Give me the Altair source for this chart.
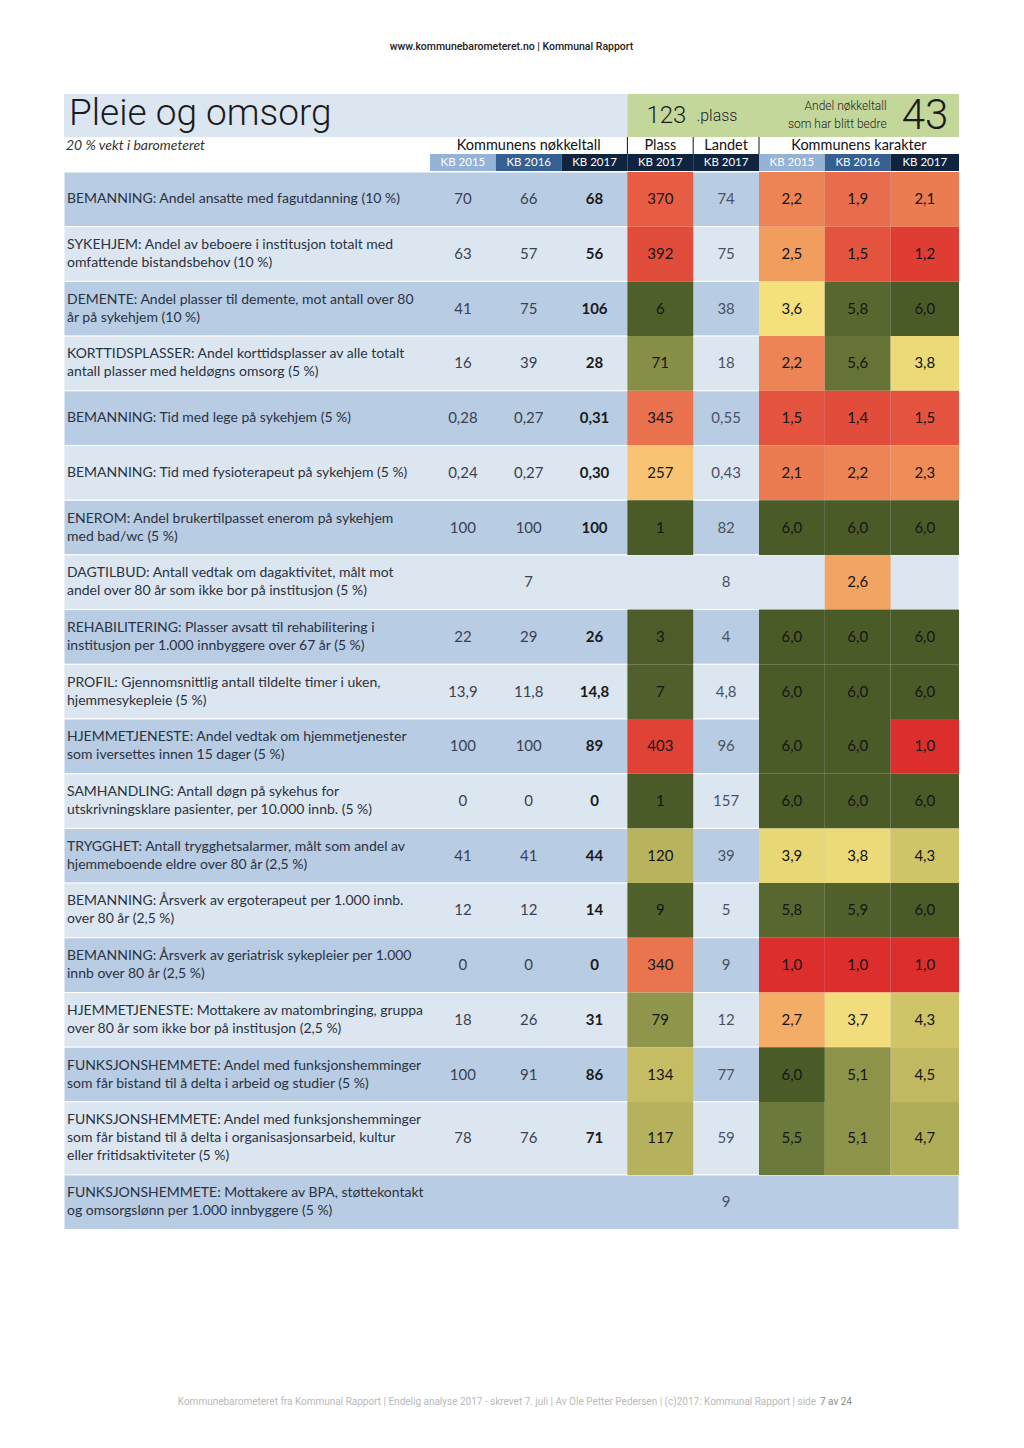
import altair as alt
import pandas as pd

# ---------------- data ----------------
LABELS = [
    "BEMANNING: Andel ansatte med fagutdanning (10 %)",
    "SYKEHJEM: Andel av beboere i institusjon totalt med\nomfattende bistandsbehov (10 %)",
    "DEMENTE: Andel plasser til demente, mot antall over 80\når på sykehjem (10 %)",
    "KORTTIDSPLASSER: Andel korttidsplasser av alle totalt\nantall plasser med heldøgns omsorg (5 %)",
    "BEMANNING: Tid med lege på sykehjem (5 %)",
    "BEMANNING: Tid med fysioterapeut på sykehjem (5 %)",
    "ENEROM: Andel brukertilpasset enerom på sykehjem\nmed bad/wc (5 %)",
    "DAGTILBUD: Antall vedtak om dagaktivitet, målt mot\nandel over 80 år som ikke bor på institusjon (5 %)",
    "REHABILITERING: Plasser avsatt til rehabilitering i\ninstitusjon per 1.000 innbyggere over 67 år (5 %)",
    "PROFIL: Gjennomsnittlig antall tildelte timer i uken,\nhjemmesykepleie (5 %)",
    "HJEMMETJENESTE: Andel vedtak om hjemmetjenester\nsom iversettes innen 15 dager (5 %)",
    "SAMHANDLING: Antall døgn på sykehus for\nutskrivningsklare pasienter, per 10.000 innb. (5 %)",
    "TRYGGHET: Antall trygghetsalarmer, målt som andel av\nhjemmeboende eldre over 80 år (2,5 %)",
    "BEMANNING: Årsverk av ergoterapeut per 1.000 innb.\nover 80 år (2,5 %)",
    "BEMANNING: Årsverk av geriatrisk sykepleier per 1.000\ninnb over 80 år (2,5 %)",
    "HJEMMETJENESTE: Mottakere av matombringing, gruppa\nover 80 år som ikke bor på institusjon (2,5 %)",
    "FUNKSJONSHEMMETE: Andel med funksjonshemminger\nsom får bistand til å delta i arbeid og studier (5 %)",
    "FUNKSJONSHEMMETE: Andel med funksjonshemminger\nsom får bistand til å delta i organisasjonsarbeid, kultur\neller fritidsaktiviteter (5 %)",
    "FUNKSJONSHEMMETE: Mottakere av BPA, støttekontakt\nog omsorgslønn per 1.000 innbyggere (5 %)",
]
KB2015 = [70, 63, 41, 16, 0.28, 0.24, 100, None, 22, 13.9, 100, 0, 41, 12, 0, 18, 100, 78, None]
KB2016 = [66, 57, 75, 39, 0.27, 0.27, 100, 7, 29, 11.8, 100, 0, 41, 12, 0, 26, 91, 76, None]
KB2017 = [68, 56, 106, 28, 0.31, 0.30, 100, None, 26, 14.8, 89, 0, 44, 14, 0, 31, 86, 71, None]
PLASS = [370, 392, 6, 71, 345, 257, 1, None, 3, 7, 403, 1, 120, 9, 340, 79, 134, 117, None]
LANDET = [74, 75, 38, 18, 0.55, 0.43, 82, 8, 4, 4.8, 96, 157, 39, 5, 9, 12, 77, 59, 9]
KAR2015 = [2.2, 2.5, 3.6, 2.2, 1.5, 2.1, 6.0, None, 6.0, 6.0, 6.0, 6.0, 3.9, 5.8, 1.0, 2.7, 6.0, 5.5, None]
KAR2016 = [1.9, 1.5, 5.8, 5.6, 1.4, 2.2, 6.0, 2.6, 6.0, 6.0, 6.0, 6.0, 3.8, 5.9, 1.0, 3.7, 5.1, 5.1, None]
KAR2017 = [2.1, 1.2, 6.0, 3.8, 1.5, 2.3, 6.0, None, 6.0, 6.0, 1.0, 6.0, 4.3, 6.0, 1.0, 4.3, 4.5, 4.7, None]
DECIMALS = [0, 0, 0, 0, 2, 2, 0, 0, 0, 1, 0, 0, 0, 0, 0, 0, 0, 0, 0]
YEARS = ["KB 2015", "KB 2016", "KB 2017", "KB 2017", "KB 2017", "KB 2015", "KB 2016", "KB 2017"]
GROUPS = [("Kommunens nøkkeltall", 0, 3), ("Plass", 3, 4), ("Landet", 4, 5), ("Kommunens karakter", 5, 8)]
TITLE = "Pleie og omsorg"
SUBTITLE = "20 % vekt i barometeret"
RANK = "123"
RANK_SUFFIX = ".plass"
IMPROVED = "43"
IMPROVED_TEXT = "Andel nøkkeltall\nsom har blitt bedre"
N_KOMMUNER = 426
HEADER_URL = "www.kommunebarometeret.no | Kommunal Rapport"
FOOTER = "Kommunebarometeret fra Kommunal Rapport | Endelig analyse 2017 - skrevet 7. juli | Av Ole Petter Pedersen | (c)2017: Kommunal Rapport | side"
FOOTER_PAGE = "7 av 24"

# ---------------- styling / layout ----------------
FONT = "Lato"
TFONT = "Roboto"
W = 895
LABEL_W = 366
COL_W = 65.8
EDGES = [LABEL_W + COL_W * i for i in range(8)] + [W]
TITLE_H, SUB_H, YEAR_H, GAP = 43, 17, 17, 1
LINE_H, ROW_PAD = 18.3, 18.1
TEXT_LH = 18

GRADE_DOMAIN = [1, 1.5, 2, 2.5, 3, 3.6, 4, 4.5, 5, 5.5, 6]
GRADE_RANGE = ["#dc2f2d", "#e4533e", "#e9744f", "#f19d5e", "#f8c472", "#f5e07e",
               "#e3d472", "#c1b961", "#969a4d", "#6b7a3a", "#4b5b28"]
PLASS_DOMAIN = [1 + (6 - g) / 5 * (N_KOMMUNER - 1) for g in GRADE_DOMAIN]


def fmt(v, d):
    return f"{v:.{d}f}".replace(".", ",")


rows = []
y = TITLE_H + SUB_H + YEAR_H + GAP
for i, lab in enumerate(LABELS):
    nl = lab.count("\n") + 1
    n = max(nl, 2)
    h = ROW_PAD + LINE_H * n
    yc = y + h / 2
    rows.append(dict(i=i, label=lab, x0=0, x1=W, xl=3, y0=y, y1=y + h, yc=yc,
                     yl=yc - (nl - 1) * TEXT_LH / 2,
                     shade="dark" if i % 2 == 0 else "light"))
    y += h
H = y
rows_df = pd.DataFrame(rows)

num_cells = []
for c, arr, kind in [(0, KB2015, "key"), (1, KB2016, "key"), (2, KB2017, "bold"), (4, LANDET, "land")]:
    for r, v in enumerate(arr):
        if v is None:
            continue
        num_cells.append(dict(kind=kind, text=fmt(v, DECIMALS[r]), xc=(EDGES[c] + EDGES[c + 1]) / 2,
                              yc=rows[r]["yc"]))
num_df = pd.DataFrame(num_cells)

grade_cells = []
for c, arr in [(5, KAR2015), (6, KAR2016), (7, KAR2017)]:
    for r, v in enumerate(arr):
        if v is None:
            continue
        grade_cells.append(dict(value=v, text=fmt(v, 1), x0=EDGES[c], x1=EDGES[c + 1],
                                xc=(EDGES[c] + EDGES[c + 1]) / 2, y0=rows[r]["y0"], y1=rows[r]["y1"],
                                yc=rows[r]["yc"]))
grade_df = pd.DataFrame(grade_cells)

plass_cells = []
for r, v in enumerate(PLASS):
    if v is None:
        continue
    plass_cells.append(dict(value=v, text=str(v), x0=EDGES[3], x1=EDGES[4],
                            xc=(EDGES[3] + EDGES[4]) / 2, y0=rows[r]["y0"], y1=rows[r]["y1"],
                            yc=rows[r]["yc"]))
plass_df = pd.DataFrame(plass_cells)

top_df = pd.DataFrame([
    dict(part="title", x0=0, x1=EDGES[3], y0=0, y1=TITLE_H),
    dict(part="score", x0=EDGES[3], x1=W, y0=0, y1=TITLE_H),
])
year_df = pd.DataFrame([
    dict(label=lab, x0=EDGES[c], x1=EDGES[c + 1], xc=(EDGES[c] + EDGES[c + 1]) / 2,
         y0=TITLE_H + SUB_H, y1=TITLE_H + SUB_H + YEAR_H, yc=TITLE_H + SUB_H + YEAR_H / 2 + 1)
    for c, lab in enumerate(YEARS)
])
group_df = pd.DataFrame([
    dict(label=g, xc=(EDGES[a] + EDGES[b]) / 2, yc=TITLE_H + SUB_H / 2 + 0.5) for g, a, b in GROUPS
])
sep_df = pd.DataFrame([dict(x=EDGES[c], y0=TITLE_H, y1=TITLE_H + SUB_H) for c in (3, 4, 5)])

xs = alt.Scale(domain=[0, W], nice=False, zero=False)
ys = alt.Scale(domain=[0, H], nice=False, zero=False, reverse=True)


def X(f):
    return alt.X(f"{f}:Q", scale=xs, axis=None)


def Y(f):
    return alt.Y(f"{f}:Q", scale=ys, axis=None)


def txt(df, **kw):
    return alt.Chart(df).mark_text(**kw)


bg = alt.Chart(rows_df).mark_rect(stroke="white", strokeWidth=1).encode(
    x=X("x0"), x2="x1", y=Y("y0"), y2="y1",
    color=alt.Color("shade:N", scale=alt.Scale(domain=["dark", "light"], range=["#b8cce4", "#dce6f1"]),
                    legend=None))

top = alt.Chart(top_df).mark_rect().encode(
    x=X("x0"), x2="x1", y=Y("y0"), y2="y1",
    color=alt.Color("part:N", scale=alt.Scale(domain=["title", "score"], range=["#dce6f1", "#c4d79b"]),
                    legend=None))

years = alt.Chart(year_df).mark_rect().encode(
    x=X("x0"), x2="x1", y=Y("y0"), y2="y1",
    color=alt.Color("label:N", scale=alt.Scale(domain=["KB 2015", "KB 2016", "KB 2017"],
                                               range=["#95b3d7", "#366092", "#0f243e"]), legend=None))
years_t = txt(year_df, font=FONT, fontSize=11.5, color="white", baseline="middle").encode(
    x=X("xc"), y=Y("yc"), text="label:N")

groups_t = txt(group_df, font=FONT, fontSize=14.5, color="#111111", baseline="middle").encode(
    x=X("xc"), y=Y("yc"), text="label:N")
seps = alt.Chart(sep_df).mark_rule(color="#111111", strokeWidth=1).encode(
    x=X("x"), y=Y("y0"), y2="y1")

grade_r = alt.Chart(grade_df).mark_rect().encode(
    x=X("x0"), x2="x1", y=Y("y0"), y2="y1",
    color=alt.Color("value:Q", scale=alt.Scale(domain=GRADE_DOMAIN, range=GRADE_RANGE, interpolate="rgb"),
                    legend=None))
grade_t = txt(grade_df, font=FONT, fontSize=15, color="#151515", baseline="middle").encode(
    x=X("xc"), y=Y("yc"), text="text:N")

plass_r = alt.Chart(plass_df).mark_rect().encode(
    x=X("x0"), x2="x1", y=Y("y0"), y2="y1",
    color=alt.Color("value:Q", scale=alt.Scale(domain=PLASS_DOMAIN, range=GRADE_RANGE, interpolate="rgb"),
                    legend=None))
plass_t = txt(plass_df, font=FONT, fontSize=15, color="#151515", baseline="middle").encode(
    x=X("xc"), y=Y("yc"), text="text:N")

key_t = txt(num_df[num_df.kind == "key"], font=FONT, fontSize=15, color="#3a4250", baseline="middle").encode(
    x=X("xc"), y=Y("yc"), text="text:N")
bold_t = txt(num_df[num_df.kind == "bold"], font=FONT, fontSize=15, fontWeight="bold", color="#1a1a1a",
             baseline="middle").encode(x=X("xc"), y=Y("yc"), text="text:N")
land_t = txt(num_df[num_df.kind == "land"], font=FONT, fontSize=15, color="#4a5262", baseline="middle").encode(
    x=X("xc"), y=Y("yc"), text="text:N")

labels_t = txt(rows_df, font=FONT, fontSize=14, color="#2a3240", align="left", baseline="middle",
               lineBreak="\n", lineHeight=TEXT_LH).encode(x=X("xl"), y=Y("yl"), text="label:N")

ann = pd.DataFrame([
    dict(k="title", text=TITLE, x=5, y=TITLE_H / 2 - 1),
    dict(k="sub", text=SUBTITLE, x=2, y=TITLE_H + SUB_H / 2 + 0.5),
    dict(k="rank", text=RANK, x=EDGES[3] + 59, y=TITLE_H / 2 + 1),
    dict(k="suffix", text=RANK_SUFFIX, x=EDGES[3] + 69, y=TITLE_H / 2 + 1),
    dict(k="imptext", text=IMPROVED_TEXT, x=EDGES[7] - 4, y=TITLE_H / 2 - 9),
    dict(k="imp", text=IMPROVED, x=W - 34, y=TITLE_H / 2 + 1),
    dict(k="url", text=HEADER_URL, x=W / 2, y=-47),
    dict(k="foot", text=FOOTER, x=W - 143, y=H + 172),
    dict(k="page", text=FOOTER_PAGE, x=W - 139, y=H + 172),
])


def a(k, **kw):
    return txt(ann[ann.k == k], baseline="middle", **kw).encode(x=X("x"), y=Y("y"), text="text:N")


title_t = a("title", font=TFONT, fontSize=37, fontWeight=300, color="#1b1b1b", align="left")
sub_t = a("sub", font=FONT, fontSize=14, fontStyle="italic", color="#333333", align="left")
rank_t = a("rank", font=TFONT, fontSize=24, fontWeight=300, color="#1b1b1b", align="right")
suffix_t = a("suffix", font=TFONT, fontSize=16, fontWeight=300, color="#1b1b1b", align="left")
imptext_t = txt(ann[ann.k == "imptext"], baseline="middle", font=TFONT, fontSize=12, fontWeight=300,
                color="#1b1b1b", align="right", lineBreak="\n", lineHeight=18).encode(
    x=X("x"), y=Y("y"), text="text:N")
imp_t = a("imp", font=TFONT, fontSize=42, fontWeight=300, color="#1b1b1b", align="center")
url_t = a("url", font=TFONT, fontSize=10.5, fontWeight=500, color="#222222", align="center")
foot_t = a("foot", font=TFONT, fontSize=10, color="#b9b9b9", align="right")
page_t = a("page", font=TFONT, fontSize=10, color="#8a8a8a", align="left")

chart = alt.layer(
    top, bg, years, years_t, groups_t, seps,
    plass_r, plass_t, grade_r, grade_t,
    key_t, bold_t, land_t, labels_t,
    title_t, sub_t, rank_t, suffix_t, imptext_t, imp_t, url_t, foot_t, page_t,
).resolve_scale(color="independent").properties(
    width=W, height=H,
    autosize=alt.AutoSizeParams(type="none"),
    padding={"left": 56, "top": 86, "right": 50, "bottom": 200},
    background="white",
).configure_view(stroke=None)

chart.save("out.html", embed_options={"renderer": "svg", "actions": False})
